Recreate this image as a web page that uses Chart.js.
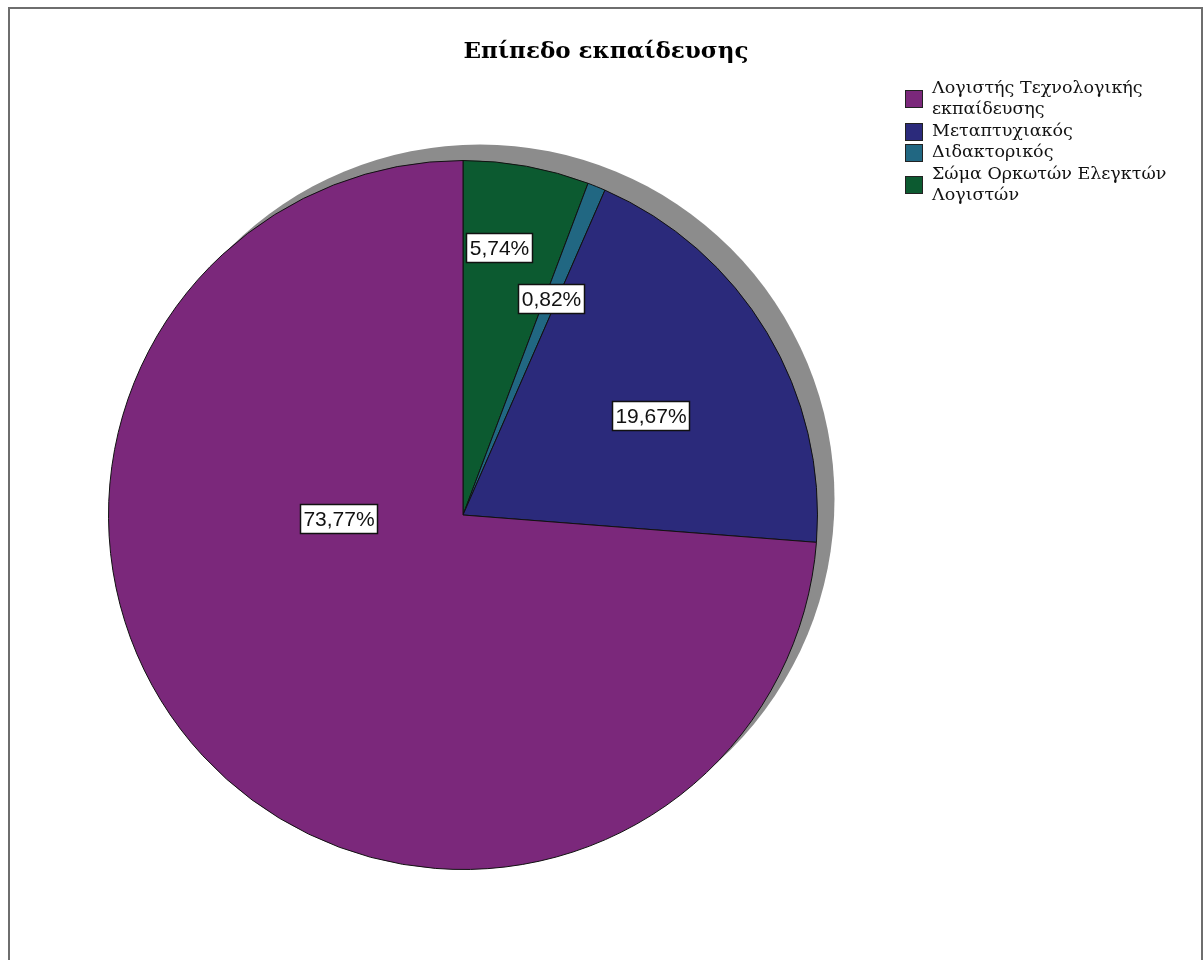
<!DOCTYPE html>
<html lang="el">
<head>
    <meta charset="UTF-8">
    <title>Επίπεδο εκπαίδευσης</title>
    <script src="https://cdn.jsdelivr.net/npm/chart.js"></script>
    <style>
        html, body { margin: 0; padding: 0; background: #ffffff; }
        #wrap { width: 1204px; height: 960px; }
    </style>
</head>
<body>
    <div id="wrap"><canvas id="pieChart" width="1204" height="960"></canvas></div>

    <script>
        const chartTitle = 'Επίπεδο εκπαίδευσης';
        const categories = ['Λογιστής Τεχνολογικής εκπαίδευσης', 'Μεταπτυχιακός', 'Διδακτορικός', 'Σώμα Ορκωτών Ελεγκτών Λογιστών'];
        const counts = [90, 24, 1, 7];
        const sliceColors = ['#7b287b', '#2b2a7b', '#216782', '#0c5a30'];
        // where each percent label sits: fraction of radius, shift from mid angle (deg)
        const labelRadius = [0.35, 0.6, 0.66, 0.76];
        const labelShift = [41, 3, 0, -2.7];

        const total = counts.reduce((a, b) => a + b, 0);
        const pct = v => (v / total * 100).toFixed(2).replace('.', ',') + '%';

        // SPSS draws counter-clockwise from 12 o'clock, Chart.js clockwise -> reverse
        const drawOrder = categories.map((c, i) => i).reverse();

        const framePlugin = {
            id: 'frame',
            beforeDraw(chart) {
                const ctx = chart.ctx;
                ctx.save();
                ctx.strokeStyle = '#6e6e6e';
                ctx.lineWidth = 2;
                ctx.strokeRect(9, 8, 1193, 1000);
                ctx.fillStyle = '#000';
                ctx.font = 'bold 23px "DejaVu Serif"';
                ctx.textAlign = 'center';
                ctx.textBaseline = 'middle';
                ctx.fillText(chartTitle, 606, 52);
                ctx.restore();
            }
        };

        const shadowPlugin = {
            id: 'shadow',
            beforeDatasetsDraw(chart) {
                const arc = chart.getDatasetMeta(0).data[0];
                const ctx = chart.ctx;
                ctx.save();
                ctx.fillStyle = '#8c8c8c';
                ctx.beginPath();
                ctx.arc(arc.x + 17, arc.y - 16, arc.outerRadius, 0, Math.PI * 2);
                ctx.fill();
                ctx.restore();
            }
        };

        const labelPlugin = {
            id: 'pctLabels',
            afterDatasetsDraw(chart) {
                const ctx = chart.ctx;
                ctx.save();
                ctx.font = '21px "Liberation Sans"';
                ctx.textAlign = 'center';
                ctx.textBaseline = 'middle';
                chart.getDatasetMeta(0).data.forEach((arc, j) => {
                    const i = drawOrder[j];
                    const mid = (arc.startAngle + arc.endAngle) / 2 + labelShift[i] * Math.PI / 180;
                    const r = arc.outerRadius * labelRadius[i];
                    const x = arc.x + Math.cos(mid) * r;
                    const y = arc.y + Math.sin(mid) * r;
                    const text = pct(counts[i]);
                    const w = Math.round(ctx.measureText(text).width + 6);
                    const h = 29;
                    const bx = Math.round(x - w / 2) + 0.5;
                    const by = Math.round(y - h / 2) + 0.5;
                    ctx.fillStyle = '#ffffff';
                    ctx.fillRect(bx, by, w, h);
                    ctx.strokeStyle = '#111111';
                    ctx.lineWidth = 1.5;
                    ctx.strokeRect(bx, by, w, h);
                    ctx.fillStyle = '#111111';
                    ctx.fillText(text, bx + w / 2, by + h / 2 + 1);
                });
                ctx.restore();
            }
        };

        const legendPlugin = {
            id: 'sideLegend',
            afterDraw(chart) {
                const ctx = chart.ctx;
                const lineH = 21.5;
                const maxW = 250;
                let y = 88;
                ctx.save();
                ctx.font = '17.5px "DejaVu Serif"';
                ctx.textBaseline = 'middle';
                categories.forEach((name, i) => {
                    // word wrap
                    const lines = [];
                    let cur = '';
                    name.split(' ').forEach(word => {
                        const test = cur ? cur + ' ' + word : word;
                        if (cur && ctx.measureText(test).width > maxW) {
                            lines.push(cur);
                            cur = word;
                        } else {
                            cur = test;
                        }
                    });
                    lines.push(cur);
                    const midY = y + (lines.length - 1) * lineH / 2;
                    ctx.fillStyle = sliceColors[i];
                    ctx.fillRect(905.5, Math.round(midY - 8.5) + 0.5, 17, 17);
                    ctx.strokeStyle = '#222';
                    ctx.lineWidth = 1;
                    ctx.strokeRect(905.5, Math.round(midY - 8.5) + 0.5, 17, 17);
                    ctx.fillStyle = '#111';
                    lines.forEach((ln, k) => ctx.fillText(ln, 932, y + k * lineH));
                    y += lines.length * lineH;
                });
                ctx.restore();
            }
        };

        new Chart(document.getElementById('pieChart'), {
            type: 'pie',
            data: {
                labels: drawOrder.map(i => categories[i]),
                datasets: [{
                    data: drawOrder.map(i => counts[i]),
                    backgroundColor: drawOrder.map(i => sliceColors[i]),
                    borderColor: '#111111',
                    borderWidth: 1
                }]
            },
            options: {
                responsive: false,
                animation: false,
                events: [],
                layout: {
                    padding: { left: 108, right: 386, top: 160, bottom: 90 }
                },
                plugins: {
                    legend: { display: false },
                    tooltip: { enabled: false },
                    title: { display: false }
                }
            },
            plugins: [framePlugin, shadowPlugin, labelPlugin, legendPlugin]
        });
    </script>
</body>
</html>
